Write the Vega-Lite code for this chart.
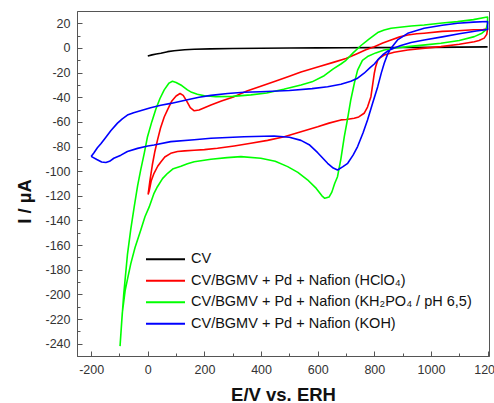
{
  "$schema": "https://vega.github.io/schema/vega-lite/v6.json",
  "autosize": "none",
  "padding": {"left": 77, "top": 11, "right": 5, "bottom": 47},
  "width": 412,
  "height": 345,
  "background": "white",
  "config": {
    "view": {"stroke": "#555", "strokeWidth": 1},
    "font": "Liberation Sans",
    "axis": {"domainColor": "#555", "tickColor": "#555", "labelColor": "#333", "labelFontSize": 12.5, "labelFont": "Liberation Sans", "titleFont": "Liberation Sans", "titleFontWeight": "bold", "titleFontSize": 18.5, "titleColor": "#111", "grid": false}
  },
  "data": {"values": [
    {"s":"CV","o":1,"E":0,"I":-6.5},{"s":"CV","o":2,"E":15,"I":-5.6},{"s":"CV","o":3,"E":30,"I":-4.9},{"s":"CV","o":4,"E":46,"I":-4.3},{"s":"CV","o":5,"E":70,"I":-3},{"s":"CV","o":6,"E":93,"I":-2.2},{"s":"CV","o":7,"E":130,"I":-1.5},{"s":"CV","o":8,"E":164,"I":-1.1},{"s":"CV","o":9,"E":220,"I":-0.7},{"s":"CV","o":10,"E":300,"I":-0.4},{"s":"CV","o":11,"E":400,"I":-0.2},{"s":"CV","o":12,"E":500,"I":0},{"s":"CV","o":13,"E":600,"I":0.1},{"s":"CV","o":14,"E":700,"I":0.2},{"s":"CV","o":15,"E":800,"I":0.3},{"s":"CV","o":16,"E":900,"I":0.4},{"s":"CV","o":17,"E":1000,"I":0.5},{"s":"CV","o":18,"E":1100,"I":0.7},{"s":"CV","o":19,"E":1200,"I":0.9},

    {"s":"CV/BGMV + Pd + Nafion (HClO₄)","o":1,"E":1,"I":-119},{"s":"CV/BGMV + Pd + Nafion (HClO₄)","o":2,"E":8,"I":-107},{"s":"CV/BGMV + Pd + Nafion (HClO₄)","o":3,"E":16,"I":-95},{"s":"CV/BGMV + Pd + Nafion (HClO₄)","o":4,"E":25,"I":-84},{"s":"CV/BGMV + Pd + Nafion (HClO₄)","o":5,"E":34,"I":-75},{"s":"CV/BGMV + Pd + Nafion (HClO₄)","o":6,"E":45,"I":-65},{"s":"CV/BGMV + Pd + Nafion (HClO₄)","o":7,"E":58,"I":-56},{"s":"CV/BGMV + Pd + Nafion (HClO₄)","o":8,"E":70,"I":-50},{"s":"CV/BGMV + Pd + Nafion (HClO₄)","o":9,"E":85,"I":-43},{"s":"CV/BGMV + Pd + Nafion (HClO₄)","o":10,"E":100,"I":-39},{"s":"CV/BGMV + Pd + Nafion (HClO₄)","o":11,"E":114,"I":-37},{"s":"CV/BGMV + Pd + Nafion (HClO₄)","o":12,"E":125,"I":-38.5},{"s":"CV/BGMV + Pd + Nafion (HClO₄)","o":13,"E":137,"I":-43},{"s":"CV/BGMV + Pd + Nafion (HClO₄)","o":14,"E":150,"I":-48.5},{"s":"CV/BGMV + Pd + Nafion (HClO₄)","o":15,"E":164,"I":-51},{"s":"CV/BGMV + Pd + Nafion (HClO₄)","o":16,"E":181,"I":-50.3},{"s":"CV/BGMV + Pd + Nafion (HClO₄)","o":17,"E":200,"I":-48.5},{"s":"CV/BGMV + Pd + Nafion (HClO₄)","o":18,"E":223,"I":-46.3},{"s":"CV/BGMV + Pd + Nafion (HClO₄)","o":19,"E":260,"I":-43},{"s":"CV/BGMV + Pd + Nafion (HClO₄)","o":20,"E":305,"I":-39.5},{"s":"CV/BGMV + Pd + Nafion (HClO₄)","o":21,"E":350,"I":-35},{"s":"CV/BGMV + Pd + Nafion (HClO₄)","o":22,"E":399,"I":-31},{"s":"CV/BGMV + Pd + Nafion (HClO₄)","o":23,"E":450,"I":-27},{"s":"CV/BGMV + Pd + Nafion (HClO₄)","o":24,"E":500,"I":-23},{"s":"CV/BGMV + Pd + Nafion (HClO₄)","o":25,"E":541,"I":-19.5},{"s":"CV/BGMV + Pd + Nafion (HClO₄)","o":26,"E":600,"I":-15.5},{"s":"CV/BGMV + Pd + Nafion (HClO₄)","o":27,"E":658,"I":-11.5},{"s":"CV/BGMV + Pd + Nafion (HClO₄)","o":28,"E":700,"I":-8.5},{"s":"CV/BGMV + Pd + Nafion (HClO₄)","o":29,"E":741,"I":-4.5},{"s":"CV/BGMV + Pd + Nafion (HClO₄)","o":30,"E":770,"I":-1.5},{"s":"CV/BGMV + Pd + Nafion (HClO₄)","o":31,"E":800,"I":1},{"s":"CV/BGMV + Pd + Nafion (HClO₄)","o":32,"E":830,"I":4},{"s":"CV/BGMV + Pd + Nafion (HClO₄)","o":33,"E":859,"I":6.5},{"s":"CV/BGMV + Pd + Nafion (HClO₄)","o":34,"E":890,"I":9},{"s":"CV/BGMV + Pd + Nafion (HClO₄)","o":35,"E":918,"I":10.5},{"s":"CV/BGMV + Pd + Nafion (HClO₄)","o":36,"E":950,"I":11.5},{"s":"CV/BGMV + Pd + Nafion (HClO₄)","o":37,"E":976,"I":12},{"s":"CV/BGMV + Pd + Nafion (HClO₄)","o":38,"E":1040,"I":13.5},{"s":"CV/BGMV + Pd + Nafion (HClO₄)","o":39,"E":1094,"I":14},{"s":"CV/BGMV + Pd + Nafion (HClO₄)","o":40,"E":1150,"I":14.8},{"s":"CV/BGMV + Pd + Nafion (HClO₄)","o":41,"E":1185,"I":15},{"s":"CV/BGMV + Pd + Nafion (HClO₄)","o":42,"E":1200,"I":15.5},{"s":"CV/BGMV + Pd + Nafion (HClO₄)","o":43,"E":1197,"I":11},{"s":"CV/BGMV + Pd + Nafion (HClO₄)","o":44,"E":1188,"I":8},{"s":"CV/BGMV + Pd + Nafion (HClO₄)","o":45,"E":1170,"I":6},{"s":"CV/BGMV + Pd + Nafion (HClO₄)","o":46,"E":1153,"I":5},{"s":"CV/BGMV + Pd + Nafion (HClO₄)","o":47,"E":1100,"I":3},{"s":"CV/BGMV + Pd + Nafion (HClO₄)","o":48,"E":1035,"I":1.1},{"s":"CV/BGMV + Pd + Nafion (HClO₄)","o":49,"E":970,"I":-0.3},{"s":"CV/BGMV + Pd + Nafion (HClO₄)","o":50,"E":918,"I":-1.6},{"s":"CV/BGMV + Pd + Nafion (HClO₄)","o":51,"E":870,"I":-3.5},{"s":"CV/BGMV + Pd + Nafion (HClO₄)","o":52,"E":835,"I":-5.7},{"s":"CV/BGMV + Pd + Nafion (HClO₄)","o":53,"E":820,"I":-8},{"s":"CV/BGMV + Pd + Nafion (HClO₄)","o":54,"E":812,"I":-10},{"s":"CV/BGMV + Pd + Nafion (HClO₄)","o":55,"E":805,"I":-15},{"s":"CV/BGMV + Pd + Nafion (HClO₄)","o":56,"E":800,"I":-20.5},{"s":"CV/BGMV + Pd + Nafion (HClO₄)","o":57,"E":794,"I":-30},{"s":"CV/BGMV + Pd + Nafion (HClO₄)","o":58,"E":788,"I":-39.5},{"s":"CV/BGMV + Pd + Nafion (HClO₄)","o":59,"E":776,"I":-48},{"s":"CV/BGMV + Pd + Nafion (HClO₄)","o":60,"E":764,"I":-53},{"s":"CV/BGMV + Pd + Nafion (HClO₄)","o":61,"E":745,"I":-56},{"s":"CV/BGMV + Pd + Nafion (HClO₄)","o":62,"E":729,"I":-57},{"s":"CV/BGMV + Pd + Nafion (HClO₄)","o":63,"E":700,"I":-58},{"s":"CV/BGMV + Pd + Nafion (HClO₄)","o":64,"E":682,"I":-58.4},{"s":"CV/BGMV + Pd + Nafion (HClO₄)","o":65,"E":640,"I":-61},{"s":"CV/BGMV + Pd + Nafion (HClO₄)","o":66,"E":600,"I":-64},{"s":"CV/BGMV + Pd + Nafion (HClO₄)","o":67,"E":541,"I":-68},{"s":"CV/BGMV + Pd + Nafion (HClO₄)","o":68,"E":482,"I":-72},{"s":"CV/BGMV + Pd + Nafion (HClO₄)","o":69,"E":423,"I":-75},{"s":"CV/BGMV + Pd + Nafion (HClO₄)","o":70,"E":364,"I":-77.4},{"s":"CV/BGMV + Pd + Nafion (HClO₄)","o":71,"E":305,"I":-79.5},{"s":"CV/BGMV + Pd + Nafion (HClO₄)","o":72,"E":246,"I":-81.4},{"s":"CV/BGMV + Pd + Nafion (HClO₄)","o":73,"E":200,"I":-82.5},{"s":"CV/BGMV + Pd + Nafion (HClO₄)","o":74,"E":164,"I":-83},{"s":"CV/BGMV + Pd + Nafion (HClO₄)","o":75,"E":130,"I":-83.5},{"s":"CV/BGMV + Pd + Nafion (HClO₄)","o":76,"E":105,"I":-84},{"s":"CV/BGMV + Pd + Nafion (HClO₄)","o":77,"E":81,"I":-85.5},{"s":"CV/BGMV + Pd + Nafion (HClO₄)","o":78,"E":60,"I":-88.5},{"s":"CV/BGMV + Pd + Nafion (HClO₄)","o":79,"E":46,"I":-92.5},{"s":"CV/BGMV + Pd + Nafion (HClO₄)","o":80,"E":35,"I":-96},{"s":"CV/BGMV + Pd + Nafion (HClO₄)","o":81,"E":22,"I":-101.7},{"s":"CV/BGMV + Pd + Nafion (HClO₄)","o":82,"E":12,"I":-108},{"s":"CV/BGMV + Pd + Nafion (HClO₄)","o":83,"E":5,"I":-116},{"s":"CV/BGMV + Pd + Nafion (HClO₄)","o":84,"E":1,"I":-119},

    {"s":"CV/BGMV + Pd + Nafion (KH₂PO₄ / pH 6,5)","o":1,"E":-98,"I":-242},{"s":"CV/BGMV + Pd + Nafion (KH₂PO₄ / pH 6,5)","o":2,"E":-90,"I":-215},{"s":"CV/BGMV + Pd + Nafion (KH₂PO₄ / pH 6,5)","o":3,"E":-80,"I":-197},{"s":"CV/BGMV + Pd + Nafion (KH₂PO₄ / pH 6,5)","o":4,"E":-72,"I":-188},{"s":"CV/BGMV + Pd + Nafion (KH₂PO₄ / pH 6,5)","o":5,"E":-60,"I":-175},{"s":"CV/BGMV + Pd + Nafion (KH₂PO₄ / pH 6,5)","o":6,"E":-45,"I":-162},{"s":"CV/BGMV + Pd + Nafion (KH₂PO₄ / pH 6,5)","o":7,"E":-25,"I":-148},{"s":"CV/BGMV + Pd + Nafion (KH₂PO₄ / pH 6,5)","o":8,"E":-10,"I":-137},{"s":"CV/BGMV + Pd + Nafion (KH₂PO₄ / pH 6,5)","o":9,"E":5,"I":-129},{"s":"CV/BGMV + Pd + Nafion (KH₂PO₄ / pH 6,5)","o":10,"E":22,"I":-118},{"s":"CV/BGMV + Pd + Nafion (KH₂PO₄ / pH 6,5)","o":11,"E":34,"I":-112.6},{"s":"CV/BGMV + Pd + Nafion (KH₂PO₄ / pH 6,5)","o":12,"E":52,"I":-106},{"s":"CV/BGMV + Pd + Nafion (KH₂PO₄ / pH 6,5)","o":13,"E":70,"I":-101.7},{"s":"CV/BGMV + Pd + Nafion (KH₂PO₄ / pH 6,5)","o":14,"E":90,"I":-98},{"s":"CV/BGMV + Pd + Nafion (KH₂PO₄ / pH 6,5)","o":15,"E":117,"I":-96},{"s":"CV/BGMV + Pd + Nafion (KH₂PO₄ / pH 6,5)","o":16,"E":140,"I":-94},{"s":"CV/BGMV + Pd + Nafion (KH₂PO₄ / pH 6,5)","o":17,"E":164,"I":-92.3},{"s":"CV/BGMV + Pd + Nafion (KH₂PO₄ / pH 6,5)","o":18,"E":223,"I":-90.3},{"s":"CV/BGMV + Pd + Nafion (KH₂PO₄ / pH 6,5)","o":19,"E":280,"I":-89},{"s":"CV/BGMV + Pd + Nafion (KH₂PO₄ / pH 6,5)","o":20,"E":329,"I":-88.2},{"s":"CV/BGMV + Pd + Nafion (KH₂PO₄ / pH 6,5)","o":21,"E":399,"I":-89.5},{"s":"CV/BGMV + Pd + Nafion (KH₂PO₄ / pH 6,5)","o":22,"E":450,"I":-92},{"s":"CV/BGMV + Pd + Nafion (KH₂PO₄ / pH 6,5)","o":23,"E":494,"I":-96.3},{"s":"CV/BGMV + Pd + Nafion (KH₂PO₄ / pH 6,5)","o":24,"E":530,"I":-101},{"s":"CV/BGMV + Pd + Nafion (KH₂PO₄ / pH 6,5)","o":25,"E":564,"I":-107},{"s":"CV/BGMV + Pd + Nafion (KH₂PO₄ / pH 6,5)","o":26,"E":595,"I":-114},{"s":"CV/BGMV + Pd + Nafion (KH₂PO₄ / pH 6,5)","o":27,"E":615,"I":-120},{"s":"CV/BGMV + Pd + Nafion (KH₂PO₄ / pH 6,5)","o":28,"E":625,"I":-122},{"s":"CV/BGMV + Pd + Nafion (KH₂PO₄ / pH 6,5)","o":29,"E":640,"I":-121},{"s":"CV/BGMV + Pd + Nafion (KH₂PO₄ / pH 6,5)","o":30,"E":650,"I":-117},{"s":"CV/BGMV + Pd + Nafion (KH₂PO₄ / pH 6,5)","o":31,"E":660,"I":-110},{"s":"CV/BGMV + Pd + Nafion (KH₂PO₄ / pH 6,5)","o":32,"E":670,"I":-104.5},{"s":"CV/BGMV + Pd + Nafion (KH₂PO₄ / pH 6,5)","o":33,"E":682,"I":-90},{"s":"CV/BGMV + Pd + Nafion (KH₂PO₄ / pH 6,5)","o":34,"E":694,"I":-72},{"s":"CV/BGMV + Pd + Nafion (KH₂PO₄ / pH 6,5)","o":35,"E":706,"I":-57},{"s":"CV/BGMV + Pd + Nafion (KH₂PO₄ / pH 6,5)","o":36,"E":717,"I":-42},{"s":"CV/BGMV + Pd + Nafion (KH₂PO₄ / pH 6,5)","o":37,"E":730,"I":-28},{"s":"CV/BGMV + Pd + Nafion (KH₂PO₄ / pH 6,5)","o":38,"E":741,"I":-18},{"s":"CV/BGMV + Pd + Nafion (KH₂PO₄ / pH 6,5)","o":39,"E":758,"I":-10},{"s":"CV/BGMV + Pd + Nafion (KH₂PO₄ / pH 6,5)","o":40,"E":776,"I":-7},{"s":"CV/BGMV + Pd + Nafion (KH₂PO₄ / pH 6,5)","o":41,"E":805,"I":-4},{"s":"CV/BGMV + Pd + Nafion (KH₂PO₄ / pH 6,5)","o":42,"E":835,"I":-1.6},{"s":"CV/BGMV + Pd + Nafion (KH₂PO₄ / pH 6,5)","o":43,"E":875,"I":0},{"s":"CV/BGMV + Pd + Nafion (KH₂PO₄ / pH 6,5)","o":44,"E":918,"I":1.1},{"s":"CV/BGMV + Pd + Nafion (KH₂PO₄ / pH 6,5)","o":45,"E":980,"I":2.5},{"s":"CV/BGMV + Pd + Nafion (KH₂PO₄ / pH 6,5)","o":46,"E":1035,"I":3.8},{"s":"CV/BGMV + Pd + Nafion (KH₂PO₄ / pH 6,5)","o":47,"E":1100,"I":6},{"s":"CV/BGMV + Pd + Nafion (KH₂PO₄ / pH 6,5)","o":48,"E":1153,"I":9.2},{"s":"CV/BGMV + Pd + Nafion (KH₂PO₄ / pH 6,5)","o":49,"E":1180,"I":12},{"s":"CV/BGMV + Pd + Nafion (KH₂PO₄ / pH 6,5)","o":50,"E":1194,"I":14.6},{"s":"CV/BGMV + Pd + Nafion (KH₂PO₄ / pH 6,5)","o":51,"E":1200,"I":20},{"s":"CV/BGMV + Pd + Nafion (KH₂PO₄ / pH 6,5)","o":52,"E":1200,"I":25},{"s":"CV/BGMV + Pd + Nafion (KH₂PO₄ / pH 6,5)","o":53,"E":1194,"I":24.9},{"s":"CV/BGMV + Pd + Nafion (KH₂PO₄ / pH 6,5)","o":54,"E":1150,"I":23},{"s":"CV/BGMV + Pd + Nafion (KH₂PO₄ / pH 6,5)","o":55,"E":1094,"I":21.4},{"s":"CV/BGMV + Pd + Nafion (KH₂PO₄ / pH 6,5)","o":56,"E":1040,"I":20.3},{"s":"CV/BGMV + Pd + Nafion (KH₂PO₄ / pH 6,5)","o":57,"E":976,"I":18.7},{"s":"CV/BGMV + Pd + Nafion (KH₂PO₄ / pH 6,5)","o":58,"E":930,"I":17.8},{"s":"CV/BGMV + Pd + Nafion (KH₂PO₄ / pH 6,5)","o":59,"E":890,"I":16.8},{"s":"CV/BGMV + Pd + Nafion (KH₂PO₄ / pH 6,5)","o":60,"E":859,"I":16},{"s":"CV/BGMV + Pd + Nafion (KH₂PO₄ / pH 6,5)","o":61,"E":835,"I":14.5},{"s":"CV/BGMV + Pd + Nafion (KH₂PO₄ / pH 6,5)","o":62,"E":812,"I":12.5},{"s":"CV/BGMV + Pd + Nafion (KH₂PO₄ / pH 6,5)","o":63,"E":800,"I":10.5},{"s":"CV/BGMV + Pd + Nafion (KH₂PO₄ / pH 6,5)","o":64,"E":780,"I":7},{"s":"CV/BGMV + Pd + Nafion (KH₂PO₄ / pH 6,5)","o":65,"E":753,"I":2},{"s":"CV/BGMV + Pd + Nafion (KH₂PO₄ / pH 6,5)","o":66,"E":725,"I":-4},{"s":"CV/BGMV + Pd + Nafion (KH₂PO₄ / pH 6,5)","o":67,"E":700,"I":-10},{"s":"CV/BGMV + Pd + Nafion (KH₂PO₄ / pH 6,5)","o":68,"E":682,"I":-13},{"s":"CV/BGMV + Pd + Nafion (KH₂PO₄ / pH 6,5)","o":69,"E":655,"I":-17},{"s":"CV/BGMV + Pd + Nafion (KH₂PO₄ / pH 6,5)","o":70,"E":623,"I":-22.5},{"s":"CV/BGMV + Pd + Nafion (KH₂PO₄ / pH 6,5)","o":71,"E":580,"I":-27.5},{"s":"CV/BGMV + Pd + Nafion (KH₂PO₄ / pH 6,5)","o":72,"E":541,"I":-30},{"s":"CV/BGMV + Pd + Nafion (KH₂PO₄ / pH 6,5)","o":73,"E":480,"I":-33.5},{"s":"CV/BGMV + Pd + Nafion (KH₂PO₄ / pH 6,5)","o":74,"E":420,"I":-36.5},{"s":"CV/BGMV + Pd + Nafion (KH₂PO₄ / pH 6,5)","o":75,"E":364,"I":-38.1},{"s":"CV/BGMV + Pd + Nafion (KH₂PO₄ / pH 6,5)","o":76,"E":300,"I":-39.3},{"s":"CV/BGMV + Pd + Nafion (KH₂PO₄ / pH 6,5)","o":77,"E":240,"I":-39.5},{"s":"CV/BGMV + Pd + Nafion (KH₂PO₄ / pH 6,5)","o":78,"E":200,"I":-38.8},{"s":"CV/BGMV + Pd + Nafion (KH₂PO₄ / pH 6,5)","o":79,"E":175,"I":-37.5},{"s":"CV/BGMV + Pd + Nafion (KH₂PO₄ / pH 6,5)","o":80,"E":155,"I":-36},{"s":"CV/BGMV + Pd + Nafion (KH₂PO₄ / pH 6,5)","o":81,"E":140,"I":-34},{"s":"CV/BGMV + Pd + Nafion (KH₂PO₄ / pH 6,5)","o":82,"E":120,"I":-30.5},{"s":"CV/BGMV + Pd + Nafion (KH₂PO₄ / pH 6,5)","o":83,"E":100,"I":-28},{"s":"CV/BGMV + Pd + Nafion (KH₂PO₄ / pH 6,5)","o":84,"E":87,"I":-27},{"s":"CV/BGMV + Pd + Nafion (KH₂PO₄ / pH 6,5)","o":85,"E":75,"I":-28.5},{"s":"CV/BGMV + Pd + Nafion (KH₂PO₄ / pH 6,5)","o":86,"E":58,"I":-34},{"s":"CV/BGMV + Pd + Nafion (KH₂PO₄ / pH 6,5)","o":87,"E":43,"I":-41},{"s":"CV/BGMV + Pd + Nafion (KH₂PO₄ / pH 6,5)","o":88,"E":28,"I":-50},{"s":"CV/BGMV + Pd + Nafion (KH₂PO₄ / pH 6,5)","o":89,"E":14,"I":-60},{"s":"CV/BGMV + Pd + Nafion (KH₂PO₄ / pH 6,5)","o":90,"E":-1,"I":-72},{"s":"CV/BGMV + Pd + Nafion (KH₂PO₄ / pH 6,5)","o":91,"E":-12,"I":-85},{"s":"CV/BGMV + Pd + Nafion (KH₂PO₄ / pH 6,5)","o":92,"E":-25,"I":-99},{"s":"CV/BGMV + Pd + Nafion (KH₂PO₄ / pH 6,5)","o":93,"E":-36,"I":-112},{"s":"CV/BGMV + Pd + Nafion (KH₂PO₄ / pH 6,5)","o":94,"E":-48,"I":-129},{"s":"CV/BGMV + Pd + Nafion (KH₂PO₄ / pH 6,5)","o":95,"E":-60,"I":-147},{"s":"CV/BGMV + Pd + Nafion (KH₂PO₄ / pH 6,5)","o":96,"E":-72,"I":-168},{"s":"CV/BGMV + Pd + Nafion (KH₂PO₄ / pH 6,5)","o":97,"E":-85,"I":-200},{"s":"CV/BGMV + Pd + Nafion (KH₂PO₄ / pH 6,5)","o":98,"E":-92,"I":-222},{"s":"CV/BGMV + Pd + Nafion (KH₂PO₄ / pH 6,5)","o":99,"E":-98,"I":-242},

    {"s":"CV/BGMV + Pd + Nafion (KOH)","o":1,"E":-200,"I":-88},{"s":"CV/BGMV + Pd + Nafion (KOH)","o":2,"E":-190,"I":-85},{"s":"CV/BGMV + Pd + Nafion (KOH)","o":3,"E":-178,"I":-81},{"s":"CV/BGMV + Pd + Nafion (KOH)","o":4,"E":-165,"I":-77.5},{"s":"CV/BGMV + Pd + Nafion (KOH)","o":5,"E":-150,"I":-73},{"s":"CV/BGMV + Pd + Nafion (KOH)","o":6,"E":-130,"I":-67},{"s":"CV/BGMV + Pd + Nafion (KOH)","o":7,"E":-107,"I":-61},{"s":"CV/BGMV + Pd + Nafion (KOH)","o":8,"E":-90,"I":-57.5},{"s":"CV/BGMV + Pd + Nafion (KOH)","o":9,"E":-72,"I":-54.5},{"s":"CV/BGMV + Pd + Nafion (KOH)","o":10,"E":-50,"I":-52.5},{"s":"CV/BGMV + Pd + Nafion (KOH)","o":11,"E":-20,"I":-50.5},{"s":"CV/BGMV + Pd + Nafion (KOH)","o":12,"E":10,"I":-48.5},{"s":"CV/BGMV + Pd + Nafion (KOH)","o":13,"E":46,"I":-46.5},{"s":"CV/BGMV + Pd + Nafion (KOH)","o":14,"E":81,"I":-45},{"s":"CV/BGMV + Pd + Nafion (KOH)","o":15,"E":140,"I":-42},{"s":"CV/BGMV + Pd + Nafion (KOH)","o":16,"E":181,"I":-40},{"s":"CV/BGMV + Pd + Nafion (KOH)","o":17,"E":223,"I":-38.5},{"s":"CV/BGMV + Pd + Nafion (KOH)","o":18,"E":282,"I":-37},{"s":"CV/BGMV + Pd + Nafion (KOH)","o":19,"E":340,"I":-36},{"s":"CV/BGMV + Pd + Nafion (KOH)","o":20,"E":399,"I":-35.5},{"s":"CV/BGMV + Pd + Nafion (KOH)","o":21,"E":500,"I":-34.5},{"s":"CV/BGMV + Pd + Nafion (KOH)","o":22,"E":580,"I":-33},{"s":"CV/BGMV + Pd + Nafion (KOH)","o":23,"E":635,"I":-31.5},{"s":"CV/BGMV + Pd + Nafion (KOH)","o":24,"E":682,"I":-29.5},{"s":"CV/BGMV + Pd + Nafion (KOH)","o":25,"E":717,"I":-27},{"s":"CV/BGMV + Pd + Nafion (KOH)","o":26,"E":741,"I":-24.5},{"s":"CV/BGMV + Pd + Nafion (KOH)","o":27,"E":764,"I":-20.5},{"s":"CV/BGMV + Pd + Nafion (KOH)","o":28,"E":785,"I":-16},{"s":"CV/BGMV + Pd + Nafion (KOH)","o":29,"E":800,"I":-13},{"s":"CV/BGMV + Pd + Nafion (KOH)","o":30,"E":812,"I":-9.7},{"s":"CV/BGMV + Pd + Nafion (KOH)","o":31,"E":830,"I":-5.5},{"s":"CV/BGMV + Pd + Nafion (KOH)","o":32,"E":847,"I":-2.5},{"s":"CV/BGMV + Pd + Nafion (KOH)","o":33,"E":870,"I":0},{"s":"CV/BGMV + Pd + Nafion (KOH)","o":34,"E":894,"I":2},{"s":"CV/BGMV + Pd + Nafion (KOH)","o":35,"E":930,"I":4.5},{"s":"CV/BGMV + Pd + Nafion (KOH)","o":36,"E":976,"I":6.5},{"s":"CV/BGMV + Pd + Nafion (KOH)","o":37,"E":1040,"I":9},{"s":"CV/BGMV + Pd + Nafion (KOH)","o":38,"E":1100,"I":11.5},{"s":"CV/BGMV + Pd + Nafion (KOH)","o":39,"E":1160,"I":13.8},{"s":"CV/BGMV + Pd + Nafion (KOH)","o":40,"E":1200,"I":15},{"s":"CV/BGMV + Pd + Nafion (KOH)","o":41,"E":1200,"I":21.5},{"s":"CV/BGMV + Pd + Nafion (KOH)","o":42,"E":1150,"I":21},{"s":"CV/BGMV + Pd + Nafion (KOH)","o":43,"E":1094,"I":20},{"s":"CV/BGMV + Pd + Nafion (KOH)","o":44,"E":1040,"I":18.5},{"s":"CV/BGMV + Pd + Nafion (KOH)","o":45,"E":976,"I":16},{"s":"CV/BGMV + Pd + Nafion (KOH)","o":46,"E":918,"I":11.9},{"s":"CV/BGMV + Pd + Nafion (KOH)","o":47,"E":882,"I":6.5},{"s":"CV/BGMV + Pd + Nafion (KOH)","o":48,"E":859,"I":-0.3},{"s":"CV/BGMV + Pd + Nafion (KOH)","o":49,"E":847,"I":-5},{"s":"CV/BGMV + Pd + Nafion (KOH)","o":50,"E":835,"I":-12.4},{"s":"CV/BGMV + Pd + Nafion (KOH)","o":51,"E":825,"I":-20},{"s":"CV/BGMV + Pd + Nafion (KOH)","o":52,"E":812,"I":-31.4},{"s":"CV/BGMV + Pd + Nafion (KOH)","o":53,"E":795,"I":-44},{"s":"CV/BGMV + Pd + Nafion (KOH)","o":54,"E":776,"I":-58.4},{"s":"CV/BGMV + Pd + Nafion (KOH)","o":55,"E":760,"I":-69},{"s":"CV/BGMV + Pd + Nafion (KOH)","o":56,"E":741,"I":-80},{"s":"CV/BGMV + Pd + Nafion (KOH)","o":57,"E":725,"I":-87},{"s":"CV/BGMV + Pd + Nafion (KOH)","o":58,"E":706,"I":-93.6},{"s":"CV/BGMV + Pd + Nafion (KOH)","o":59,"E":688,"I":-96.5},{"s":"CV/BGMV + Pd + Nafion (KOH)","o":60,"E":670,"I":-99},{"s":"CV/BGMV + Pd + Nafion (KOH)","o":61,"E":655,"I":-97.5},{"s":"CV/BGMV + Pd + Nafion (KOH)","o":62,"E":635,"I":-93.6},{"s":"CV/BGMV + Pd + Nafion (KOH)","o":63,"E":600,"I":-85},{"s":"CV/BGMV + Pd + Nafion (KOH)","o":64,"E":570,"I":-78.5},{"s":"CV/BGMV + Pd + Nafion (KOH)","o":65,"E":541,"I":-75},{"s":"CV/BGMV + Pd + Nafion (KOH)","o":66,"E":500,"I":-72.5},{"s":"CV/BGMV + Pd + Nafion (KOH)","o":67,"E":446,"I":-71.4},{"s":"CV/BGMV + Pd + Nafion (KOH)","o":68,"E":340,"I":-72},{"s":"CV/BGMV + Pd + Nafion (KOH)","o":69,"E":223,"I":-73.3},{"s":"CV/BGMV + Pd + Nafion (KOH)","o":70,"E":164,"I":-74.5},{"s":"CV/BGMV + Pd + Nafion (KOH)","o":71,"E":81,"I":-76},{"s":"CV/BGMV + Pd + Nafion (KOH)","o":72,"E":22,"I":-78.7},{"s":"CV/BGMV + Pd + Nafion (KOH)","o":73,"E":0,"I":-79.5},{"s":"CV/BGMV + Pd + Nafion (KOH)","o":74,"E":-36,"I":-81.5},{"s":"CV/BGMV + Pd + Nafion (KOH)","o":75,"E":-72,"I":-84},{"s":"CV/BGMV + Pd + Nafion (KOH)","o":76,"E":-95,"I":-87},{"s":"CV/BGMV + Pd + Nafion (KOH)","o":77,"E":-120,"I":-89.5},{"s":"CV/BGMV + Pd + Nafion (KOH)","o":78,"E":-135,"I":-92},{"s":"CV/BGMV + Pd + Nafion (KOH)","o":79,"E":-148,"I":-93},{"s":"CV/BGMV + Pd + Nafion (KOH)","o":80,"E":-163,"I":-92.5},{"s":"CV/BGMV + Pd + Nafion (KOH)","o":81,"E":-180,"I":-90.5},{"s":"CV/BGMV + Pd + Nafion (KOH)","o":82,"E":-200,"I":-88}
  ]},
  "mark": {"type": "line", "strokeWidth": 1.6, "strokeJoin": "round", "clip": true},
  "encoding": {
    "x": {"field": "E", "type": "quantitative",
      "scale": {"domain": [-250, 1205], "nice": false, "zero": false},
      "axis": {"title": "E/V vs. ERH", "values": [-200,-100,0,100,200,300,400,500,600,700,800,900,1000,1100,1200],
        "labelExpr": "datum.value % 200 === 0 ? '' + datum.value : ''",
        "tickSize": {"condition": {"test": "datum.value % 200 === 0", "value": -5}, "value": -3},
        "labelPadding": 12, "labelFlush": false, "labelOverlap": false,
        "titleY": 44, "titleBaseline": "alphabetic"}},
    "y": {"field": "I", "type": "quantitative",
      "scale": {"domain": [-250, 30], "nice": false, "zero": false},
      "axis": {"title": "I / µA", "values": [-240,-230,-220,-210,-200,-190,-180,-170,-160,-150,-140,-130,-120,-110,-100,-90,-80,-70,-60,-50,-40,-30,-20,-10,0,10,20],
        "labelExpr": "datum.value % 20 === 0 ? '' + datum.value : ''",
        "tickSize": {"condition": {"test": "datum.value % 20 === 0", "value": -5}, "value": -3},
        "labelPadding": 12, "labelFlush": false, "labelOverlap": false,
        "titleX": -47, "titleY": 190, "titleAlign": "center", "titleBaseline": "alphabetic", "titleAngle": -90}},
    "color": {"field": "s", "type": "nominal",
      "scale": {"domain": ["CV", "CV/BGMV + Pd + Nafion (HClO₄)", "CV/BGMV + Pd + Nafion (KH₂PO₄ / pH 6,5)", "CV/BGMV + Pd + Nafion (KOH)"],
        "range": ["#000000", "#ff0000", "#00ff00", "#0000ff"]},
      "legend": {"title": null, "orient": "none", "legendX": 68, "legendY": 241, "symbolType": "stroke", "symbolSize": 1521, "symbolStrokeWidth": 2,
        "labelFontSize": 14.5, "labelFont": "Liberation Sans", "labelColor": "#111", "labelLimit": 400, "labelOffset": 5, "rowPadding": 5.5, "clipHeight": 14.5, "padding": 0}},
    "order": {"field": "o", "type": "quantitative"},
    "strokeWidth": {"condition": {"test": "datum.s === 'CV'", "value": 3}, "value": 1.6}
  }
}
